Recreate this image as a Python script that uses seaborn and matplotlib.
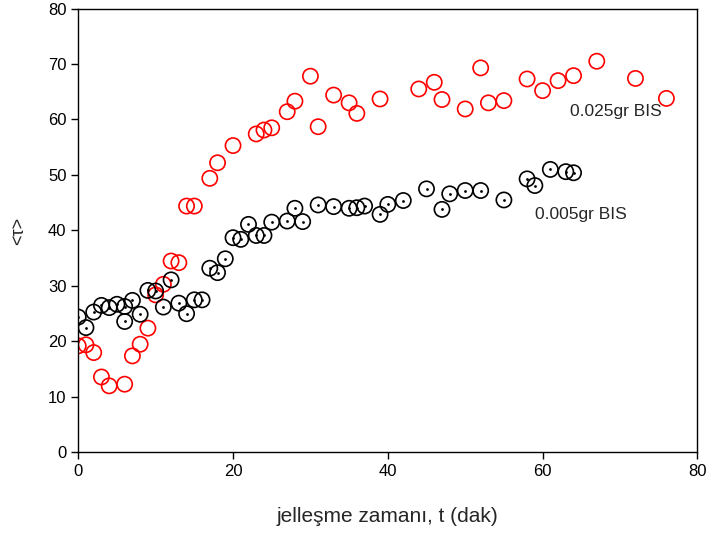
import matplotlib
matplotlib.use("Agg")
import matplotlib.pyplot as plt
import seaborn as sns
import pandas as pd

# 0.005gr BIS (black, dotted circles)
t_005 = [0, 1, 2, 3, 4, 5, 6, 6, 7, 8, 9, 10, 11, 12, 13, 14, 15, 16, 17, 18, 19,
         20, 21, 22, 23, 24, 25, 27, 28, 29, 31, 33, 35, 36, 37, 39, 40, 42, 45,
         47, 48, 50, 52, 55, 58, 59, 61, 63, 64]
tau_005 = [24.4, 22.5, 25.3, 26.5, 26.1, 26.7, 26.3, 23.6, 27.4, 24.9, 29.2, 29.1,
           26.2, 31.1, 26.9, 25.0, 27.5, 27.5, 33.2, 32.4, 34.9,
           38.7, 38.4, 41.1, 39.1, 39.1, 41.5, 41.7, 44.0, 41.6, 44.6, 44.3, 44.0,
           44.1, 44.4, 42.9, 44.7, 45.4, 47.5, 43.8, 46.6, 47.2, 47.2, 45.5, 49.3,
           48.1, 51.0, 50.6, 50.4]

# 0.025gr BIS (red, open circles)
t_025 = [0, 1, 2, 3, 4, 6, 7, 8, 9, 10, 11, 12, 13, 14, 15, 17, 18, 20, 23, 24, 25,
         27, 28, 30, 31, 33, 35, 36, 39, 44, 46, 47, 50, 52, 53, 55, 58, 60, 62,
         64, 67, 72, 76]
tau_025 = [19.2, 19.4, 18.0, 13.6, 12.0, 12.3, 17.4, 19.5, 22.4, 28.4, 30.3, 34.5,
           34.2, 44.4, 44.4, 49.4, 52.2, 55.3, 57.4, 58.1, 58.5, 61.4, 63.3, 67.8,
           58.7, 64.4, 63.0, 61.1, 63.7, 65.5, 66.7, 63.6, 61.9, 69.3, 63.0, 63.4,
           67.3, 65.2, 67.0, 67.9, 70.5, 67.4, 63.8]

x_ticks = [0, 20, 40, 60, 80]
y_ticks = [0, 10, 20, 30, 40, 50, 60, 70, 80]

df005 = pd.DataFrame({"t": t_005, "tau": tau_005})
df025 = pd.DataFrame({"t": t_025, "tau": tau_025})

sns.set_style("ticks")
plt.rcParams["font.family"] = ["Liberation Sans", "DejaVu Sans"]

fig = plt.figure(figsize=(7.08, 5.35), dpi=100)
ax = fig.add_axes([0.1105, 0.1543, 0.8745, 0.8298])

sns.scatterplot(data=df025, x="t", y="tau", ax=ax, marker="o", s=120,
                facecolors="none", edgecolor="#ff0000", linewidth=1.2)
sns.scatterplot(data=df005, x="t", y="tau", ax=ax, marker="o", s=120,
                facecolors="none", edgecolor="black", linewidth=1.2)
sns.scatterplot(data=df005, x="t", y="tau", ax=ax, marker="o", s=4,
                color="black", edgecolor="black", linewidth=0)

ax.set_xlim(0, 80)
ax.set_ylim(0, 80)
ax.set_xticks(x_ticks)
ax.set_yticks(y_ticks)
ax.tick_params(direction="out", length=5, width=1, labelsize=12, color="black",
               labelcolor="black")
for sp in ax.spines.values():
    sp.set_visible(True)
    sp.set_color("black")
    sp.set_linewidth(1)

ax.set_xlabel("jelleşme zamanı, t (dak)", fontsize=15, labelpad=20)
ax.set_ylabel("<τ>", fontsize=13, labelpad=15)

ax.text(63.6, 61.4, "0.025gr BIS", fontsize=12.5, va="center", ha="left")
ax.text(59.0, 42.9, "0.005gr BIS", fontsize=12.5, va="center", ha="left")

fig.savefig("out.png", dpi=100)
